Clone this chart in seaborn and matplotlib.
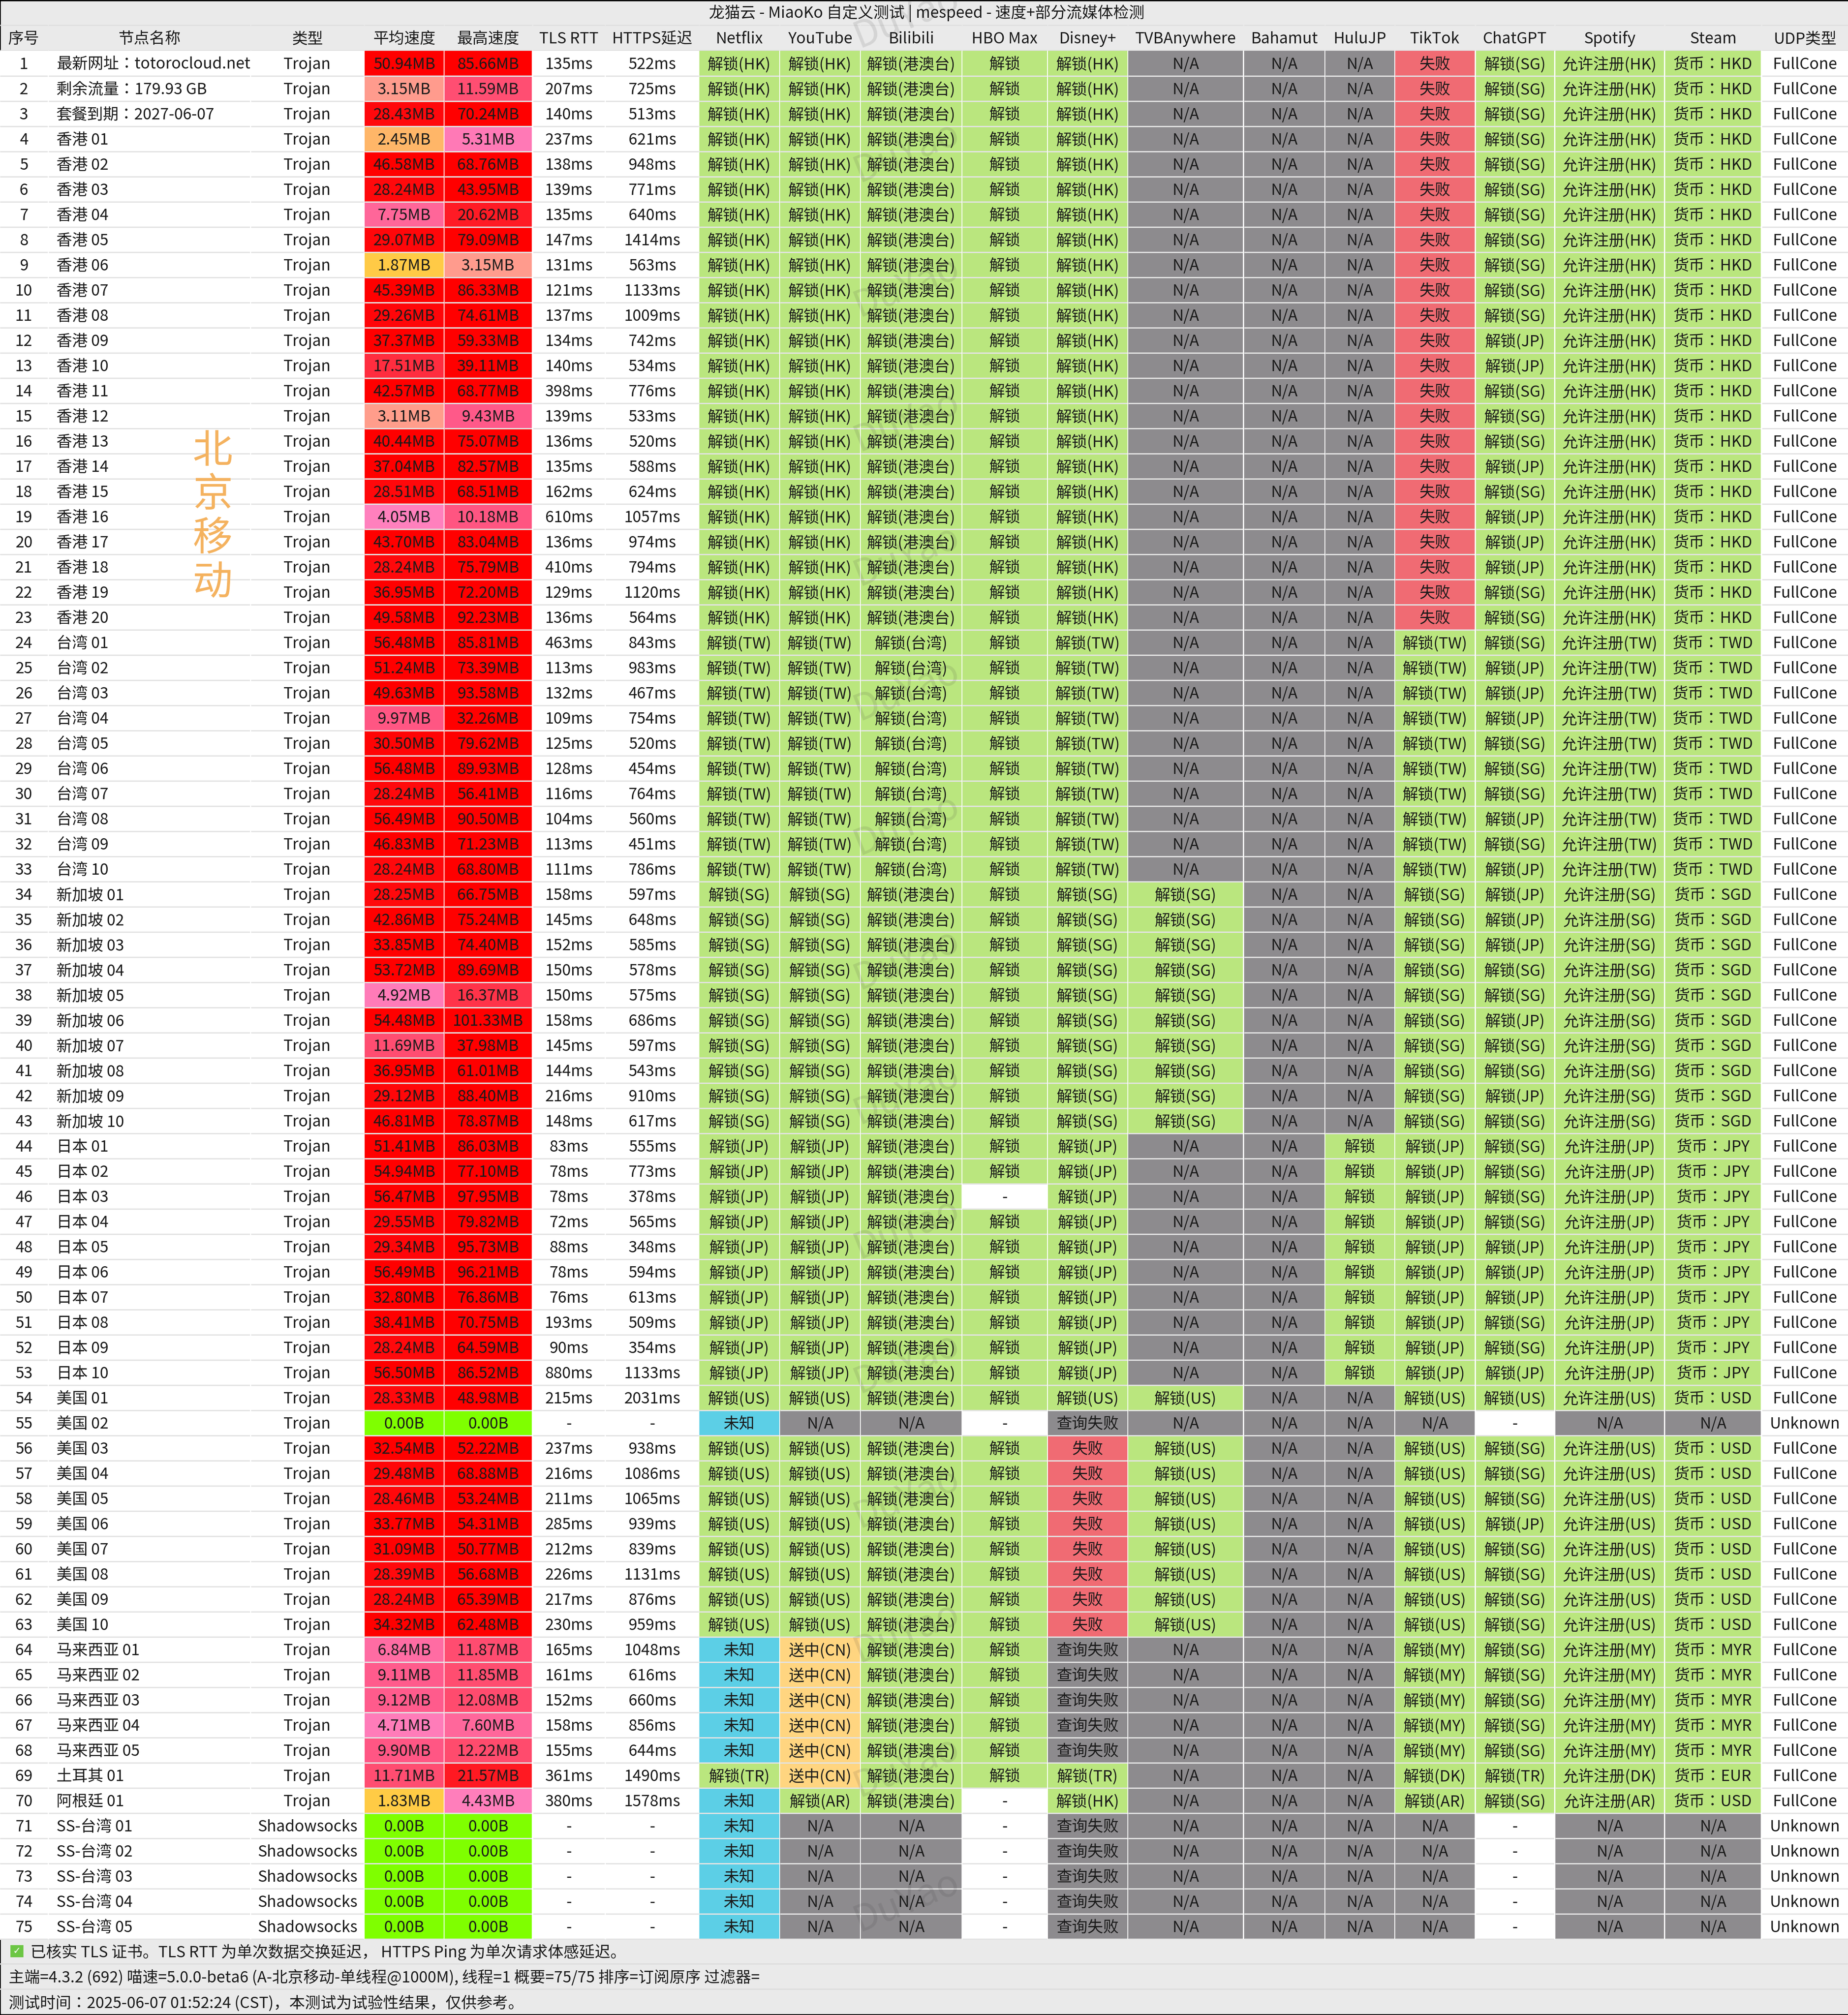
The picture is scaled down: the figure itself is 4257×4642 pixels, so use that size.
import numpy as np
import pandas as pd
import matplotlib
matplotlib.use("Agg")
import matplotlib.pyplot as plt
from matplotlib.colors import LinearSegmentedColormap, ListedColormap
from matplotlib.patches import Rectangle
import seaborn as sns

W, H = 4257, 4642
DPI = 100
FONT = 'Noto Sans CJK SC'
COLON_FONT = 'Noto Sans CJK JP'   # centres the full-width colon as the reference does
sns.set_theme(style='white')
plt.rcParams['font.family'] = [FONT, 'DejaVu Sans']

# ---------- data ----------
TITLE = '龙猫云 - MiaoKo 自定义测试 | mespeed - 速度+部分流媒体检测'
FOOT1 = '已核实 TLS 证书。TLS RTT 为单次数据交换延迟， HTTPS Ping 为单次请求体感延迟。'
FOOT2 = '主端=4.3.2 (692) 喵速=5.0.0-beta6 (A-北京移动-单线程@1000M), 线程=1 概要=75/75 排序=订阅原序 过滤器='
FOOT3 = '测试时间：2025-06-07 01:52:24 (CST)，本测试为试验性结果，仅供参考。'
HEADERS = ['序号', '节点名称', '类型', '平均速度', '最高速度', 'TLS RTT', 'HTTPS延迟', 'Netflix', 'YouTube',
           'Bilibili', 'HBO Max', 'Disney+', 'TVBAnywhere', 'Bahamut', 'HuluJP', 'TikTok', 'ChatGPT', 'Spotify',
           'Steam', 'UDP类型']

names = ['最新网址：totorocloud.net', '剩余流量：179.93 GB', '套餐到期：2027-06-07',
         '香港 01', '香港 02', '香港 03', '香港 04', '香港 05', '香港 06', '香港 07', '香港 08', '香港 09', '香港 10',
         '香港 11', '香港 12', '香港 13', '香港 14', '香港 15', '香港 16', '香港 17', '香港 18', '香港 19', '香港 20',
         '台湾 01', '台湾 02', '台湾 03', '台湾 04', '台湾 05', '台湾 06', '台湾 07', '台湾 08', '台湾 09', '台湾 10',
         '新加坡 01', '新加坡 02', '新加坡 03', '新加坡 04', '新加坡 05', '新加坡 06', '新加坡 07', '新加坡 08',
         '新加坡 09', '新加坡 10',
         '日本 01', '日本 02', '日本 03', '日本 04', '日本 05', '日本 06', '日本 07', '日本 08', '日本 09', '日本 10',
         '美国 01', '美国 02', '美国 03', '美国 04', '美国 05', '美国 06', '美国 07', '美国 08', '美国 09', '美国 10',
         '马来西亚 01', '马来西亚 02', '马来西亚 03', '马来西亚 04', '马来西亚 05', '土耳其 01', '阿根廷 01',
         'SS-台湾 01', 'SS-台湾 02', 'SS-台湾 03', 'SS-台湾 04', 'SS-台湾 05']
types = ['Trojan'] * 70 + ['Shadowsocks'] * 5

avg_speed = [50.94, 3.15, 28.43, 2.45, 46.58, 28.24, 7.75, 29.07, 1.87, 45.39, 29.26, 37.37, 17.51, 42.57, 3.11,
             40.44, 37.04, 28.51, 4.05, 43.70, 28.24, 36.95, 49.58, 56.48, 51.24, 49.63, 9.97, 30.50, 56.48, 28.24,
             56.49, 46.83, 28.24, 28.25, 42.86, 33.85, 53.72, 4.92, 54.48, 11.69, 36.95, 29.12, 46.81, 51.41, 54.94,
             56.47, 29.55, 29.34, 56.49, 32.80, 38.41, 28.24, 56.50, 28.33, 0, 32.54, 29.48, 28.46, 33.77, 31.09,
             28.39, 28.24, 34.32, 6.84, 9.11, 9.12, 4.71, 9.90, 11.71, 1.83, 0, 0, 0, 0, 0]
max_speed = [85.66, 11.59, 70.24, 5.31, 68.76, 43.95, 20.62, 79.09, 3.15, 86.33, 74.61, 59.33, 39.11, 68.77, 9.43,
             75.07, 82.57, 68.51, 10.18, 83.04, 75.79, 72.20, 92.23, 85.81, 73.39, 93.58, 32.26, 79.62, 89.93, 56.41,
             90.50, 71.23, 68.80, 66.75, 75.24, 74.40, 89.69, 16.37, 101.33, 37.98, 61.01, 88.40, 78.87, 86.03, 77.10,
             97.95, 79.82, 95.73, 96.21, 76.86, 70.75, 64.59, 86.52, 48.98, 0, 52.22, 68.88, 53.24, 54.31, 50.77,
             56.68, 65.39, 62.48, 11.87, 11.85, 12.08, 7.60, 12.22, 21.57, 4.43, 0, 0, 0, 0, 0]
tls_rtt = [135, 207, 140, 237, 138, 139, 135, 147, 131, 121, 137, 134, 140, 398, 139, 136, 135, 162, 610, 136, 410,
           129, 136, 463, 113, 132, 109, 125, 128, 116, 104, 113, 111, 158, 145, 152, 150, 150, 158, 145, 144, 216,
           148, 83, 78, 78, 72, 88, 78, 76, 193, 90, 880, 215, None, 237, 216, 211, 285, 212, 226, 217, 230, 165, 161,
           152, 158, 155, 361, 380, None, None, None, None, None]
https_ping = [522, 725, 513, 621, 948, 771, 640, 1414, 563, 1133, 1009, 742, 534, 776, 533, 520, 588, 624, 1057, 974,
              794, 1120, 564, 843, 983, 467, 754, 520, 454, 764, 560, 451, 786, 597, 648, 585, 578, 575, 686, 597, 543,
              910, 617, 555, 773, 378, 565, 348, 594, 613, 509, 354, 1133, 2031, None, 938, 1086, 1065, 939, 839, 1131,
              876, 959, 1048, 616, 660, 856, 644, 1490, 1578, None, None, None, None, None]

netflix = (['解锁(HK)'] * 23 + ['解锁(TW)'] * 10 + ['解锁(SG)'] * 10 + ['解锁(JP)'] * 10 + ['解锁(US)', '未知'] +
           ['解锁(US)'] * 8 + ['未知'] * 5 + ['解锁(TR)'] + ['未知'] * 6)
youtube = (['解锁(HK)'] * 23 + ['解锁(TW)'] * 10 + ['解锁(SG)'] * 10 + ['解锁(JP)'] * 10 + ['解锁(US)', 'N/A'] +
           ['解锁(US)'] * 8 + ['送中(CN)'] * 6 + ['解锁(AR)'] + ['N/A'] * 5)
bilibili = (['解锁(港澳台)'] * 23 + ['解锁(台湾)'] * 10 + ['解锁(港澳台)'] * 21 + ['N/A'] +
            ['解锁(港澳台)'] * 15 + ['N/A'] * 5)
hbo = ['解锁'] * 45 + ['-'] + ['解锁'] * 8 + ['-'] + ['解锁'] * 14 + ['-'] * 6
disney = (['解锁(HK)'] * 23 + ['解锁(TW)'] * 10 + ['解锁(SG)'] * 10 + ['解锁(JP)'] * 10 + ['解锁(US)', '查询失败'] +
          ['失败'] * 8 + ['查询失败'] * 5 + ['解锁(TR)', '解锁(HK)'] + ['查询失败'] * 5)
tvb = (['N/A'] * 33 + ['解锁(SG)'] * 10 + ['N/A'] * 10 + ['解锁(US)', 'N/A'] + ['解锁(US)'] * 8 + ['N/A'] * 12)
bahamut = ['N/A'] * 75
hulu = ['N/A'] * 43 + ['解锁'] * 10 + ['N/A'] * 22
tiktok = (['失败'] * 23 + ['解锁(TW)'] * 10 + ['解锁(SG)'] * 10 + ['解锁(JP)'] * 10 + ['解锁(US)', 'N/A'] +
          ['解锁(US)'] * 8 + ['解锁(MY)'] * 5 + ['解锁(DK)', '解锁(AR)'] + ['N/A'] * 5)
chatgpt_region = ['SG'] * 11 + ['JP', 'JP', 'SG', 'SG', 'SG', 'JP', 'SG', 'JP', 'JP', 'JP', 'SG', 'SG', 'SG',
                  'JP', 'JP', 'JP', 'SG', 'SG', 'SG', 'JP', 'SG', 'JP', 'JP', 'JP', 'JP', 'SG', 'SG', 'JP', 'SG',
                  'SG', 'JP', 'SG', 'SG', 'SG', 'SG', 'SG', 'JP', 'JP', 'JP', 'SG', 'SG', 'JP', 'US', None,
                  'SG', 'SG', 'SG', 'JP', 'SG', 'SG', 'SG', 'SG', 'SG', 'SG', 'SG', 'SG', 'SG', 'TR', 'SG',
                  None, None, None, None, None]
chatgpt = [f'解锁({r})' if r else '-' for r in chatgpt_region]
spotify_region = (['HK'] * 23 + ['TW'] * 10 + ['SG'] * 10 + ['JP'] * 10 + ['US', None] + ['US'] * 8 + ['MY'] * 5 +
                  ['DK', 'AR'] + [None] * 5)
spotify = [f'允许注册({r})' if r else 'N/A' for r in spotify_region]
currency = (['HKD'] * 23 + ['TWD'] * 10 + ['SGD'] * 10 + ['JPY'] * 10 + ['USD', None] + ['USD'] * 8 + ['MYR'] * 5 +
            ['EUR', 'USD'] + [None] * 5)
steam = [f'货币：{c}' if c else 'N/A' for c in currency]
udp = ['FullCone'] * 54 + ['Unknown'] + ['FullCone'] * 15 + ['Unknown'] * 5

# ---------- styling / layout ----------
STATUS_COLORS = ['#FFFFFF', '#BAE67E', '#8D8B8E', '#F06B73', '#5CCFE6', '#FFD580']
SPEED_STOPS = [(0, '#7FFF00'), (0.5, '#7FFF00'), (0.6, '#FFD040'), (1.85, '#FFCB45'), (2.45, '#FFB668'),
               (3.13, '#FF9C8C'), (4.05, '#FF80BD'), (5.3, '#FF79B6'), (6.84, '#FF6CA3'), (7.75, '#FF6699'),
               (9.5, '#FF5888'), (11.6, '#FF4E72'), (16.4, '#FF3349'), (20.6, '#FF1B25'), (32, '#FF0000')]
SPEED_MAX = 32
speed_cmap = LinearSegmentedColormap.from_list('speed', [(v / SPEED_MAX, c) for v, c in SPEED_STOPS], N=4096)
status_cmap = ListedColormap(STATUS_COLORS)

COL_EDGES = [(0, 110), (112, 576), (578, 838), (840, 1022), (1024, 1225), (1228, 1393), (1395, 1610),
             (1611, 1795), (1797, 1981), (1983, 2215), (2217, 2412), (2414, 2597), (2599, 2863), (2866, 3051),
             (3053, 3212), (3214, 3397), (3400, 3580), (3583, 3833), (3836, 4056), (4059, 4257)]
TABLE_TOP, ROW_H, N_ROWS = 117, 58, 75
TABLE_BOTTOM = TABLE_TOP + ROW_H * N_ROWS
PX = 72 / DPI
FS = 36 * PX
TEXT = '#1a1a1a'
RULE = '#E3E3E3'
PANEL = '#EAEAEA'
TEXT_DROP = 3 / ROW_H   # cell text sits slightly below the cell centre


def status_code(label):
    if label == '-':
        return 0
    if label in ('N/A', '查询失败'):
        return 2
    if label == '失败':
        return 3
    if label == '未知':
        return 4
    if label.startswith('送中'):
        return 5
    return 1


def speed_label(v):
    return f'{v:.2f}MB' if v > 0 else '0.00B'


def ms_label(v):
    return f'{v}ms' if v is not None else '-'


columns = [
    ('plain', [str(i + 1) for i in range(N_ROWS)], None),
    ('name', names, None),
    ('plain', types, None),
    ('speed', [speed_label(v) for v in avg_speed], avg_speed),
    ('speed', [speed_label(v) for v in max_speed], max_speed),
    ('plain', [ms_label(v) for v in tls_rtt], None),
    ('plain', [ms_label(v) for v in https_ping], None),
] + [('status', c, [status_code(x) for x in c]) for c in
     (netflix, youtube, bilibili, hbo, disney, tvb, bahamut, hulu, tiktok, chatgpt, spotify, steam)] + [
    ('plain', udp, None)]
for kind, labels, _ in columns:
    assert len(labels) == N_ROWS, (kind, len(labels))
assert len(columns) == len(HEADERS) == len(COL_EDGES)

fig = plt.figure(figsize=(W / DPI, H / DPI), dpi=DPI, facecolor='white')


def px_axes(left, top, right, bottom, z):
    return fig.add_axes([left / W, 1 - bottom / H, (right - left) / W, (bottom - top) / H], zorder=z)


# background: title, header and footer panels
bg = px_axes(0, 0, W, H, 0)
bg.set_xlim(0, W)
bg.set_ylim(H, 0)
bg.axis('off')
bg.add_patch(Rectangle((0, 0), W, TABLE_TOP, color=PANEL, lw=0))
bg.add_patch(Rectangle((0, TABLE_BOTTOM), W, H - TABLE_BOTTOM, color=PANEL, lw=0))
bg.text(2135, 31, TITLE, ha='center', va='center', fontsize=FS, color=TEXT)
for (l, r), h in zip(COL_EDGES, HEADERS):
    bg.text((l + r) / 2, 90, h, ha='center', va='center', fontsize=FS, color=TEXT)
    bg.plot([l, r], [58, 58], color='#E0E0E0', lw=3 * PX, solid_capstyle='butt')
    bg.plot([l, r], [116, 116], color='#E0E0E0', lw=3 * PX, solid_capstyle='butt')
for y in (4524, 4582):
    bg.plot([0, W], [y, y], color='#DDDDDD', lw=3 * PX)
bg.add_patch(Rectangle((24, 4481), 30, 28, facecolor='#6CC644', edgecolor='none'))
bg.text(39, 4495, '✓', ha='center', va='center', fontsize=22 * PX, color='white', family='DejaVu Sans')
bg.text(70, 4498, FOOT1, ha='left', va='center', fontsize=FS, color=TEXT)
bg.text(20, 4556, FOOT2, ha='left', va='center', fontsize=FS, color=TEXT)
bg.text(20, 4615, FOOT3, ha='left', va='center', fontsize=FS, color=TEXT, family=[COLON_FONT, 'DejaVu Sans'])
for rect in ((0, 0, W, 3), (0, H - 2, W, 2), (0, 0, 2, H)):
    bg.add_patch(Rectangle(rect[:2], rect[2], rect[3], color='black', lw=0))

# one single-column heatmap per table column, since the widths differ
for (kind, labels, values), (l, r), header in zip(columns, COL_EDGES, HEADERS):
    ax = px_axes(l, TABLE_TOP, r, TABLE_BOTTOM + 2, 1)
    annot = np.array(labels, dtype=object).reshape(-1, 1)
    if kind == 'speed':
        data, cmap, vmin, vmax = np.array(values, float), speed_cmap, 0, SPEED_MAX
    elif kind == 'status':
        data, cmap, vmin, vmax = np.array(values, float), status_cmap, -0.5, 5.5
    else:
        data, cmap, vmin, vmax = np.zeros(N_ROWS), status_cmap, -0.5, 5.5
    family = COLON_FONT if header == 'Steam' else FONT
    kws = dict(color=TEXT, fontsize=FS, family=[family, 'DejaVu Sans'])
    frame = pd.DataFrame({'v': data})
    show = annot if kind != 'name' else False
    sns.heatmap(frame, ax=ax, cmap=cmap, vmin=vmin, vmax=vmax, cbar=False, annot=show, fmt='',
                annot_kws=kws, xticklabels=False, yticklabels=False, linewidths=0)
    for t in ax.texts:
        t.set_y(t.get_position()[1] + TEXT_DROP)
    if kind == 'name':
        inset = (130 - l) / (r - l)
        for i, s in enumerate(labels):
            fam = COLON_FONT if '：' in s else FONT
            ax.text(inset, i + 0.5 + TEXT_DROP, s, ha='left', va='center', fontsize=FS, color=TEXT,
                    family=[fam, 'DejaVu Sans'])
    ax.set_ylim(N_ROWS + 2 / ROW_H, 0)
    ax.hlines(np.arange(1, N_ROWS + 1), 0, 1, color=RULE, lw=3 * PX)

# overlay: provider tag and the DuYao watermark
ov = px_axes(0, 0, W, H, 5)
ov.set_xlim(0, W)
ov.set_ylim(H, 0)
ov.axis('off')
ov.patch.set_alpha(0)
for ch, y in zip('北京移动', (1040, 1141, 1243, 1343)):
    ov.text(490, y, ch, ha='center', va='center', fontsize=92 * PX, color='#F4B25F')
for y in np.arange(40, TABLE_BOTTOM, 310):
    ov.text(2088, y, 'DuYao', ha='center', va='center', rotation=22, rotation_mode='anchor',
            fontsize=85 * PX, color='#333333', alpha=0.12)

fig.savefig('out.png', dpi=DPI, facecolor='white')
